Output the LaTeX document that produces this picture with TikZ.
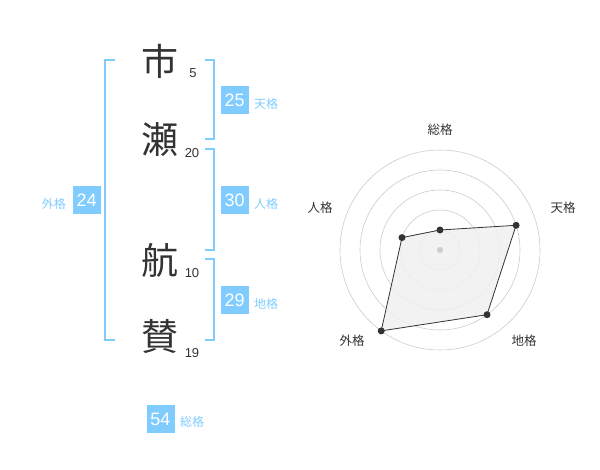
\documentclass[tikz,border=0pt]{standalone}
\usepackage{fontspec}
\setmainfont{Liberation Sans}
\newfontfamily\cjk{Noto Sans CJK JP}
\definecolor{lblue}{HTML}{80CCFF}
\definecolor{ink}{HTML}{333333}
\definecolor{ring}{HTML}{CCCCCC}
\definecolor{areafill}{HTML}{F0F0F0}
\begin{document}
\begin{tikzpicture}[x=1pt,y=-1pt,
  kanji/.style={inner sep=0pt,text=ink,font=\cjk\fontsize{37}{37}\selectfont},
  strokes/.style={inner sep=0pt,text=ink,font=\fontsize{13}{13}\selectfont},
  numbox/.style={fill=lblue,text=white,minimum width=28pt,minimum height=28pt,inner sep=0pt,font=\fontsize{18}{18}\selectfont},
  boxlabel/.style={inner sep=0pt,text=lblue,font=\cjk\fontsize{12}{12}\selectfont},
  bracket/.style={draw=lblue,line width=1.6pt},
  ringline/.style={draw=ring,line width=0.6pt},
  axislabel/.style={inner sep=0pt,text=ink,font=\cjk\fontsize{12.5}{12.5}\selectfont},
  dot/.style={circle,fill=ink,inner sep=0pt,minimum size=7pt}]
\useasboundingbox (0,0) rectangle (600,470);
% characters
\node[kanji] (c1) at (160,61) {市};
\node[kanji] (c2) at (160,140) {瀬};
\node[kanji] (c3) at (160,260) {航};
\node[kanji] (c4) at (160,337) {賛};
\node[strokes] (s1) at (193,73) {5};
\node[strokes] (s2) at (192,153) {20};
\node[strokes] (s3) at (192,273) {10};
\node[strokes] (s4) at (192,353) {19};
% brackets
\draw[bracket] (115,60) -- (105,60) -- (105,340) -- (115,340);
\draw[bracket] (205,60) -- (214,60) -- (214,139) -- (205,139);
\draw[bracket] (205,149) -- (214,149) -- (214,250) -- (205,250);
\draw[bracket] (205,259) -- (214,259) -- (214,340) -- (205,340);
% boxes
\node[numbox] (b24) at (86.7,200.5) {24};
\node[boxlabel,anchor=east] (l24) at (66,203.5) {外格};
\node[numbox] (b25) at (234.7,100.5) {25};
\node[boxlabel,anchor=west] (l25) at (254,103.5) {天格};
\node[numbox] (b30) at (234.7,200.5) {30};
\node[boxlabel,anchor=west] (l30) at (254,203.5) {人格};
\node[numbox] (b29) at (234.7,300.5) {29};
\node[boxlabel,anchor=west] (l29) at (254,303.5) {地格};
\node[numbox] (b54) at (160.5,419) {54};
\node[boxlabel,anchor=west] (l54) at (180,422) {総格};
% radar
\coordinate (C) at (440,250);
\foreach \r in {20,40,60,80,100} \draw[ringline] (C) circle[radius=\r];
\coordinate (pS) at (440,230);
\coordinate (pT) at (516.1,225.3);
\coordinate (pC) at (487.0,314.7);
\coordinate (pG) at (381.2,330.9);
\coordinate (pJ) at (402.0,237.6);
\filldraw[fill=areafill,fill opacity=0.85,draw=ink,line width=0.8pt] (pS) -- (pT) -- (pC) -- (pG) -- (pJ) -- cycle;
\node[circle,fill=ring,inner sep=0pt,minimum size=6pt] (cd) at (C) {};
\foreach \p in {pS,pT,pC,pG,pJ} \node[dot] at (\p) {};
\node[axislabel] (aS) at (440,130) {総格};
\node[axislabel] (aT) at (563,208) {天格};
\node[axislabel] (aC) at (524,341) {地格};
\node[axislabel] (aG) at (352,341) {外格};
\node[axislabel] (aJ) at (320,208) {人格};
\end{tikzpicture}
\end{document}
